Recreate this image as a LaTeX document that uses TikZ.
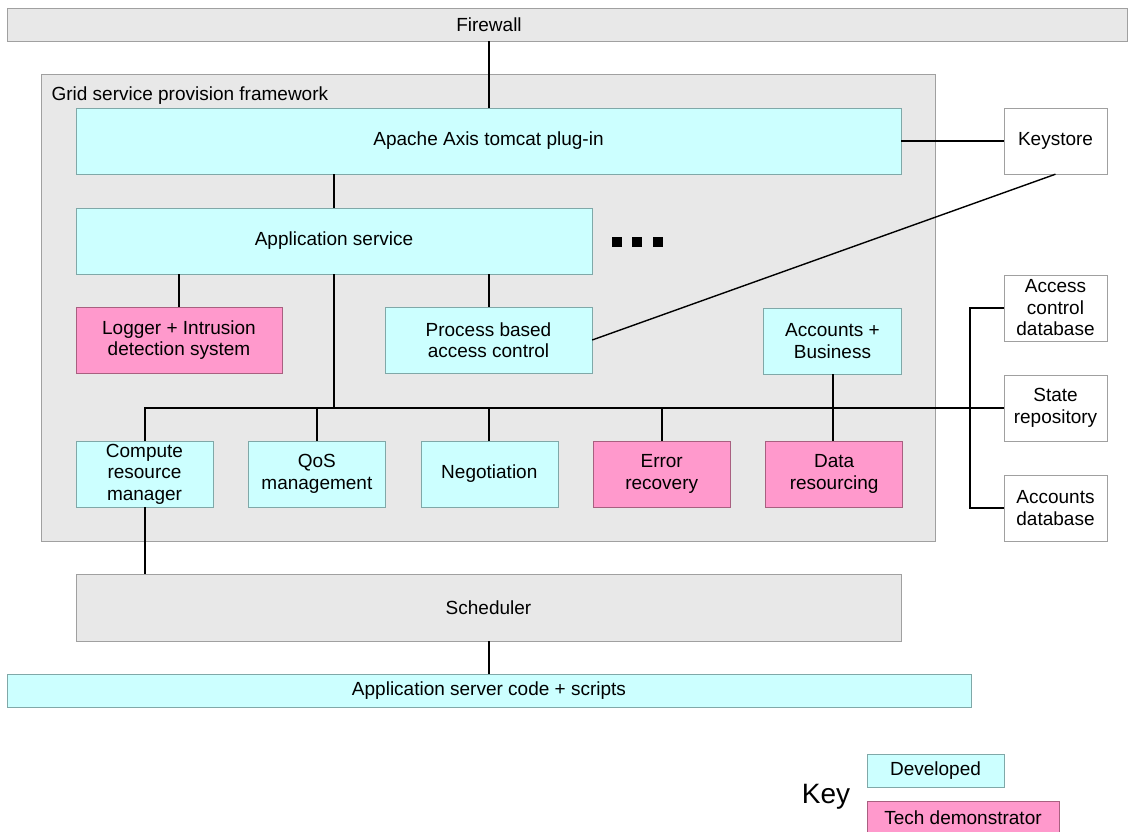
\documentclass[tikz,border=0pt]{standalone}
\usepackage{fontspec}
\setmainfont{Liberation Sans}
\usetikzlibrary{positioning}

\definecolor{devfill}{HTML}{CCFFFF}
\definecolor{devline}{HTML}{80A8A8}
\definecolor{demofill}{HTML}{FF99CC}
\definecolor{demoline}{HTML}{A86080}
\definecolor{infrafill}{HTML}{E8E8E8}
\definecolor{infraline}{HTML}{A0A0A0}

\begin{document}
\begin{tikzpicture}[
    x=1pt, y=-1pt,
    font=\fontsize{19}{21.5}\selectfont,
    box/.style={rectangle,align=center,inner sep=0pt,minimum height=66pt},
    developed/.style={box,draw=devline,fill=devfill},
    demo/.style={box,draw=demoline,fill=demofill},
    infra/.style={box,draw=infraline,fill=infrafill},
    store/.style={box,draw=infraline,fill=white,minimum width=103pt},
    small/.style={minimum width=137pt},
    dot/.style={rectangle,fill=black,inner sep=0pt,minimum size=10pt},
    link/.style={draw,line width=2pt}
]
    \useasboundingbox (0,0) rectangle (1135,832);

    % Outer boxes
    \node[infra, minimum width=1120pt, minimum height=33pt] (firewall) at (567,24.5)
        {\makebox[964pt]{Firewall}\hspace*{156pt}};
    \node[infra, minimum width=894pt, minimum height=467pt] (frame) at (488,307.5) {};
    \node[anchor=west] (framename) at (48,96) {Grid service provision framework};

    % Top layers
    \node[developed, minimum width=825pt] (apache) at (488.5,141) {Apache Axis tomcat plug-in};
    \node[store] (keystore) at (1055.5,141) {Keystore};
    \node[developed, minimum width=516pt] (appsvc) at (334,241) {Application service};
    \node[dot] (dotA) at (617,242) {};
    \node[dot] (dotB) [right=10pt of dotA] {};
    \node[dot] (dotC) [right=10pt of dotB] {};

    % Middle row
    \node[demo, minimum width=206pt] (logger) at (179,340) {Logger + Intrusion\\detection system};
    \node[developed, minimum width=207pt] (pbac) at (488.5,340) {Process based\\access control};
    \node[developed, minimum width=138pt] (accbiz) at (832.5,341) {Accounts +\\Business};

    % Bottom row
    \node[developed, small] (compute) at (144.5,474) {Compute\\resource\\manager};
    \node[developed, small] (qos) [right=35pt of compute] {QoS\\management};
    \node[developed, small] (nego) [right=35pt of qos] {Negotiation};
    \node[demo, small] (errrec) [right=35pt of nego] {Error\\recovery};
    \node[demo, small] (datares) [right=35pt of errrec] {Data\\resourcing};

    % Stores
    \node[store] (accessdb) at (1055.5,308) {Access\\control\\database};
    \node[store] (staterep) at (1055.5,408) {State\\repository};
    \node[store] (accountsdb) at (1055.5,508) {Accounts\\database};

    % Below the framework
    \node[infra, minimum width=825pt, minimum height=67pt] (sched) at (488.5,607.5) {Scheduler};
    \node[developed, minimum width=964pt, minimum height=33pt] (appcode) at (489,690.5)
        {Application server code + scripts};

    % Key
    \node (keyname) at (826,797) {\fontsize{28}{32}\selectfont Key};
    \node[developed, minimum width=137pt, minimum height=33pt] (keydev) at (935.5,770.5) {Developed};
    \node[demo, minimum width=192pt, minimum height=33pt] (keydemo) at (963,817.5) {Tech demonstrator};

    % Edges
    \draw[link] (apache.north) -- (apache.north |- firewall.south);
    \draw[link] (apache.east) -- (keystore.west);
    \draw[link] (appsvc.north) -- (appsvc.north |- apache.south);
    \draw[link] (logger.north) -- (logger.north |- appsvc.south);
    \draw[link] (pbac.north) -- (pbac.north |- appsvc.south);
    \draw[line width=1.4pt] (pbac.east) -- (keystore.south);
    \draw[link] (appsvc.south) -- (appsvc.south |- staterep.west);
    \draw[link] (compute.north) -- (compute.north |- staterep.west) -- (staterep.west);
    \draw[link] (qos.north) -- (qos.north |- staterep.west);
    \draw[link] (nego.north) -- (nego.north |- staterep.west);
    \draw[link] (errrec.north) -- (errrec.north |- staterep.west);
    \draw[link] (accbiz.south) -- (accbiz.south |- datares.north);
    \draw[link] (accessdb.west) -- ++(-34,0) |- (accountsdb.west);
    \draw[link] (compute.south) -- (compute.south |- sched.north);
    \draw[link] (sched.south) -- (sched.south |- appcode.north);
\end{tikzpicture}
\end{document}
